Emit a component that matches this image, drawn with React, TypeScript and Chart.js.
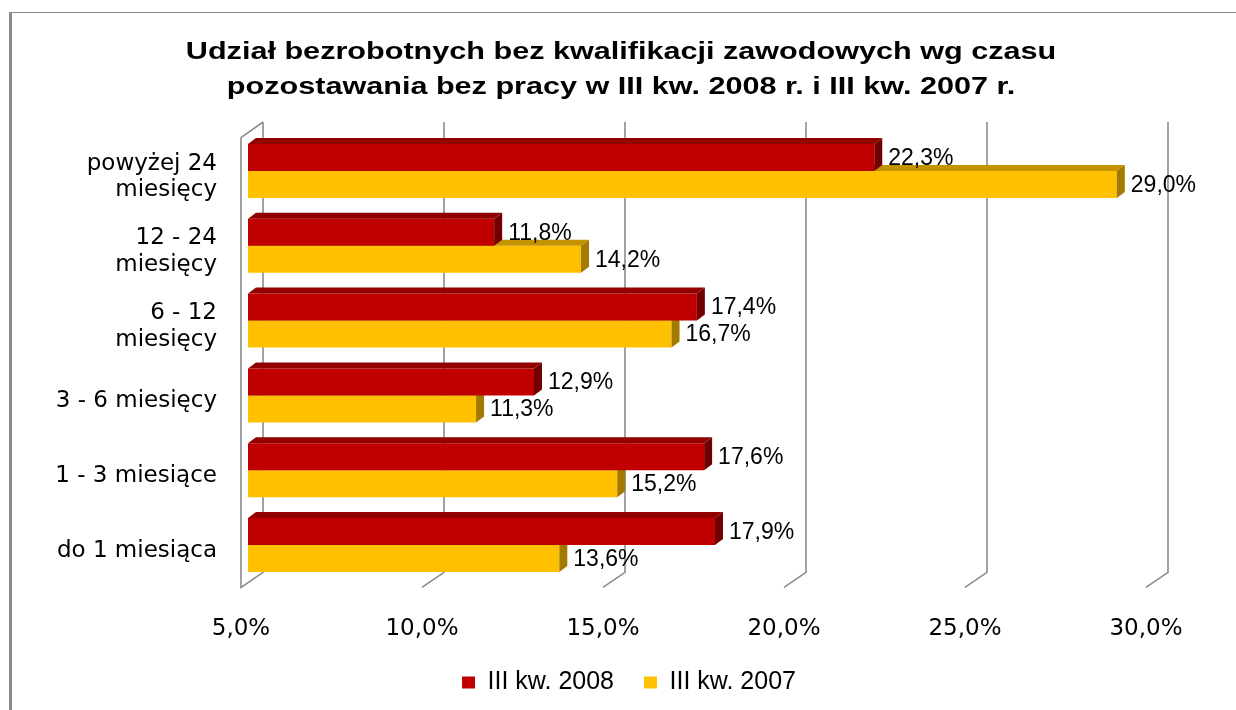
import React, { useEffect, useRef } from "react";
import { Chart, registerables } from "chart.js";

Chart.register(...registerables);

// ---------- data ----------
const categories: (string | string[])[] = [
  ["powyżej 24", "miesięcy"],
  ["12 - 24", "miesięcy"],
  ["6 - 12", "miesięcy"],
  "3 - 6 miesięcy",
  "1 - 3 miesiące",
  "do 1 miesiąca",
];
const series2008 = [22.3, 11.8, 17.4, 12.9, 17.6, 17.9];
const series2007 = [29.0, 14.2, 16.7, 11.3, 15.2, 13.6];
const seriesNames = ["III kw. 2008", "III kw. 2007"];
const titleLines = [
  "Udział bezrobotnych bez kwalifikacji zawodowych wg czasu",
  "pozostawania bez pracy w III kw. 2008 r. i III kw. 2007 r.",
];
const axisMin = 5;
const axisMax = 30;
const axisStep = 5;

// ---------- style ----------
const FRONT = ["#C00000", "#FFC000"];
const TOP = ["#920000", "#C39300"];
const SIDE = ["#720000", "#A27A00"];
const GRID = "#8c8c8c";
const BAR_DX = 8;
const BAR_DY = 6;

const fmt = (v: number) => v.toFixed(1).replace(".", ",") + "%";

const threeD = {
  id: "threeD",
  afterLayout(chart: any) {
    // shift the legend's box so it is centred like the original
    const lg = chart.legend;
    if (lg) lg.left += 105;
  },
  beforeDatasetsDraw(chart: any) {
    const { ctx, chartArea } = chart;
    const xs = chart.scales.x;
    const backTop = chartArea.top - 11.6;
    const backBottom = chartArea.bottom - 10;
    const frontBottom = chartArea.bottom + 5;
    const frontTop = chartArea.top + 4;
    ctx.save();
    ctx.strokeStyle = GRID;
    ctx.lineWidth = 1.6;
    xs.ticks.forEach((t: any, i: number) => {
      const px = xs.getPixelForValue(t.value);
      const bx = px + 15;
      const fx = px - 7;
      ctx.beginPath();
      ctx.moveTo(bx, backTop);
      ctx.lineTo(bx, backBottom);
      ctx.lineTo(fx, frontBottom);
      if (i === 0) {
        ctx.lineTo(fx, frontTop);
        ctx.lineTo(bx, backTop);
      }
      ctx.stroke();
    });
    ctx.restore();
  },
  afterDatasetDraw(chart: any, args: any) {
    const { ctx, chartArea } = chart;
    const di = args.index;
    const meta = args.meta;
    ctx.save();
    meta.data.forEach((el: any) => {
      const p = el.getProps(["x", "y", "base", "height"], true);
      const top = p.y - p.height / 2;
      const bottom = p.y + p.height / 2;
      const x0 = Math.max(p.base, chartArea.left);
      const x1 = p.x;
      // top face
      ctx.fillStyle = TOP[di];
      ctx.beginPath();
      ctx.moveTo(x0, top);
      ctx.lineTo(x0 + BAR_DX, top - BAR_DY);
      ctx.lineTo(x1 + BAR_DX, top - BAR_DY);
      ctx.lineTo(x1, top);
      ctx.closePath();
      ctx.fill();
      // side face
      ctx.fillStyle = SIDE[di];
      ctx.beginPath();
      ctx.moveTo(x1, top);
      ctx.lineTo(x1 + BAR_DX, top - BAR_DY);
      ctx.lineTo(x1 + BAR_DX, bottom - BAR_DY);
      ctx.lineTo(x1, bottom);
      ctx.closePath();
      ctx.fill();
    });
    ctx.restore();
  },
  afterDatasetsDraw(chart: any) {
    const { ctx } = chart;
    ctx.save();
    ctx.font = '23px "Liberation Sans", Arial, sans-serif';
    ctx.fillStyle = "#000";
    ctx.textAlign = "left";
    ctx.textBaseline = "middle";
    chart.data.datasets.forEach((ds: any, di: number) => {
      const meta = chart.getDatasetMeta(di);
      meta.data.forEach((el: any, i: number) => {
        const p = el.getProps(["x", "y"], true);
        ctx.fillText(fmt(ds.data[i]), p.x + 14, p.y + 1);
      });
    });
    ctx.restore();
  },
  afterDraw(chart: any) {
    const { ctx } = chart;
    ctx.save();
    ctx.font = 'bold 23px "Liberation Sans", Arial, sans-serif';
    ctx.fillStyle = "#000";
    ctx.textAlign = "center";
    ctx.textBaseline = "alphabetic";
    const baselines = [59, 94];
    titleLines.forEach((line, i) => {
      ctx.save();
      ctx.translate(621, baselines[i]);
      ctx.scale(1.33, 1);
      ctx.fillText(line, 0, 0);
      ctx.restore();
    });
    ctx.restore();
  },
};

export default function App() {
  const ref = useRef<HTMLCanvasElement>(null);
  useEffect(() => {
    const chart = new Chart(ref.current as HTMLCanvasElement, {
      type: "bar",
      data: {
        labels: categories,
        datasets: [
          {
            label: seriesNames[0],
            data: series2008,
            backgroundColor: FRONT[0],
            borderWidth: 0,
            categoryPercentage: 0.722,
            barPercentage: 1.0,
          },
          {
            label: seriesNames[1],
            data: series2007,
            backgroundColor: FRONT[1],
            borderWidth: 0,
            categoryPercentage: 0.722,
            barPercentage: 1.0,
          },
        ],
      },
      options: {
        indexAxis: "y",
        responsive: false,
        animation: false,
        layout: { padding: { top: 133.6, left: 0, right: 83, bottom: 5 } },
        scales: {
          x: {
            type: "linear",
            min: axisMin,
            max: axisMax,
            grid: { display: false, drawTicks: false },
            border: { display: false },
            ticks: {
              stepSize: axisStep,
              callback: (v: any) => fmt(Number(v)),
              font: { family: '"DejaVu Sans"', size: 23 },
              color: "#000",
              padding: 33,
              labelOffset: -7,
              maxRotation: 0,
            },
            afterFit: (s: any) => {
              s.height = 57.6;
            },
          },
          y: {
            type: "category",
            grid: { display: false, drawTicks: false },
            border: { display: false },
            ticks: {
              font: { family: '"DejaVu Sans"', size: 23, lineHeight: 1.17 },
              color: "#000",
              padding: 31,
              labelOffset: 6,
              crossAlign: "near",
            },
            afterFit: (s: any) => {
              s.width = 248;
            },
          },
        },
        plugins: {
          title: { display: false },
          tooltip: { enabled: false },
          legend: {
            position: "bottom",
            labels: {
              font: { family: '"Liberation Sans"', size: 25 },
              color: "#000",
              boxWidth: 13,
              boxHeight: 12,
              padding: 30,
            },
          },
        },
      },
      plugins: [threeD],
    } as any);
    return () => chart.destroy();
  }, []);

  return (
    <div
      style={{
        position: "absolute",
        left: 0,
        top: 0,
        width: 1236,
        height: 710,
        overflow: "hidden",
        background: "#fff",
      }}
    >
      <div
        style={{
          position: "absolute",
          left: 9,
          top: 12,
          right: -10,
          bottom: -10,
          borderTop: "1px solid #8a8a8a",
          borderLeft: "3px solid #8a8a8a",
        }}
      />
      <canvas
        ref={ref}
        width={1236}
        height={710}
        style={{ position: "absolute", left: 0, top: 0 }}
      />
    </div>
  );
}
